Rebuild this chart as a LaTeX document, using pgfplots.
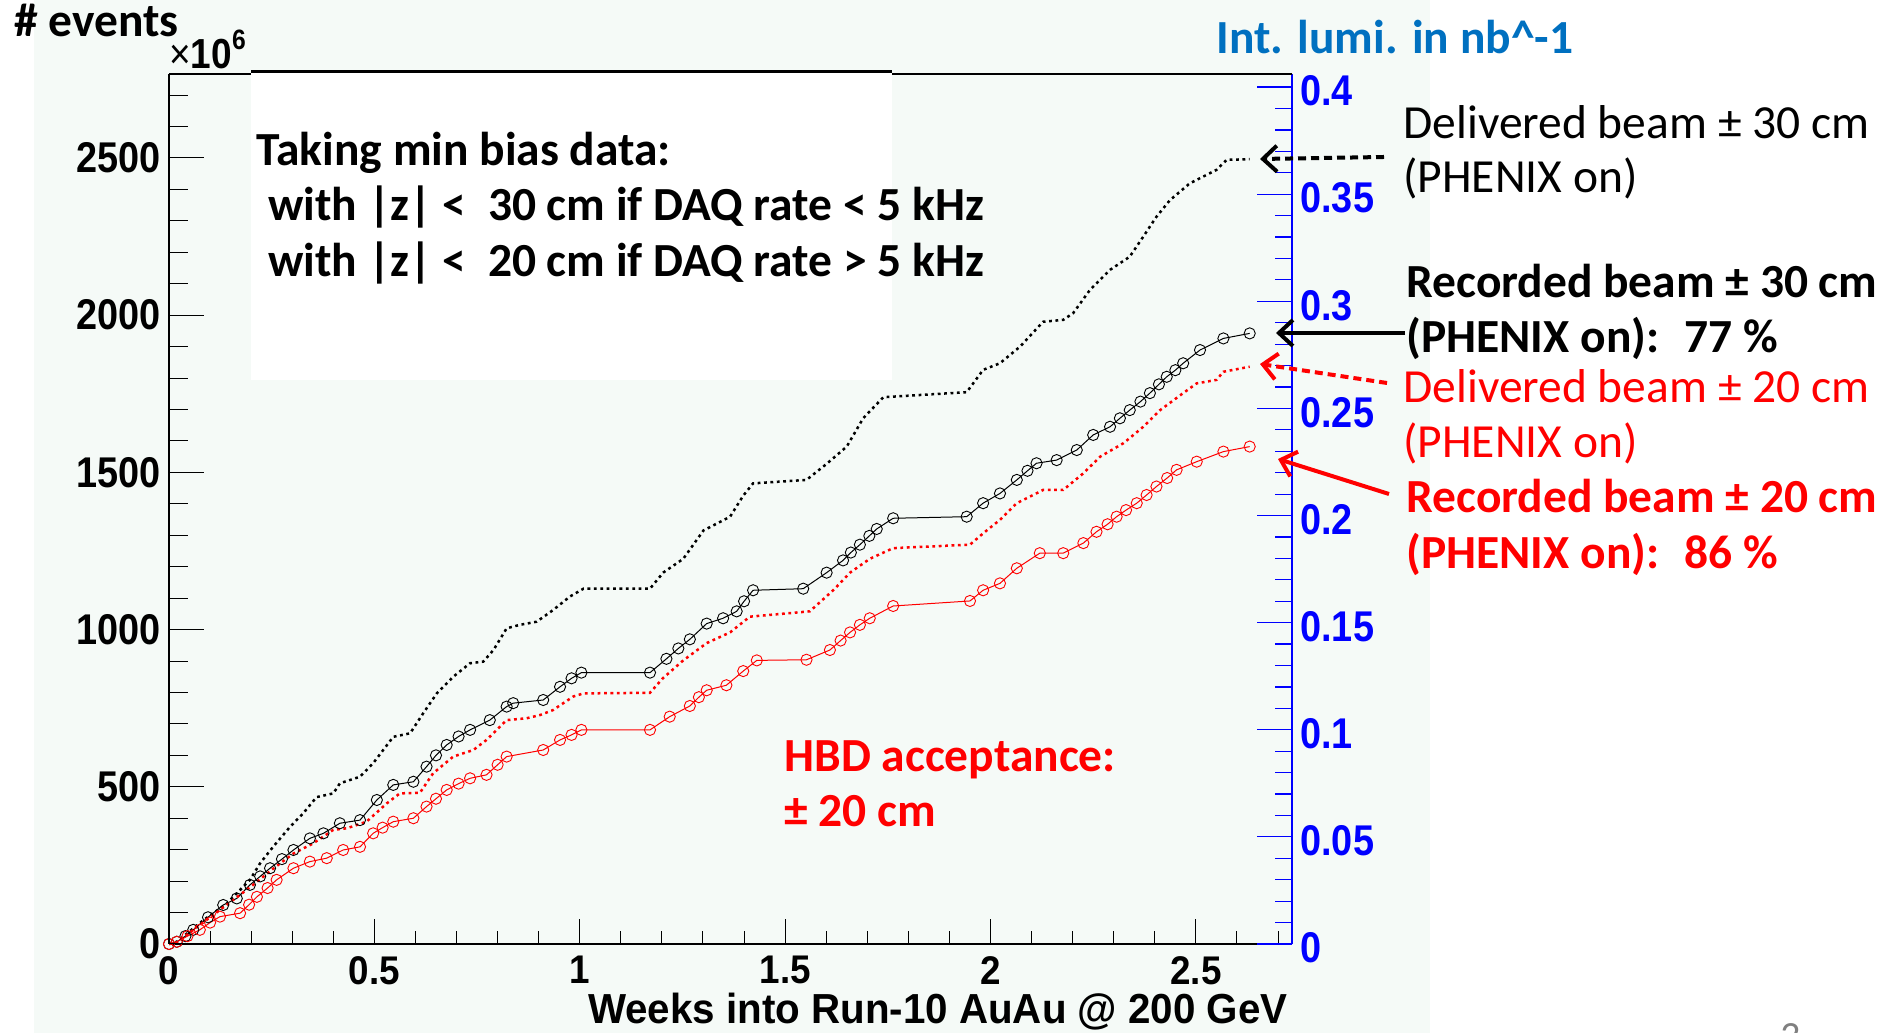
\documentclass[border=0pt]{standalone}
\usepackage{fontspec}
\setmainfont{Carlito}
\usepackage{pgfplots}
\pgfplotsset{compat=1.18}
\usetikzlibrary{arrows.meta}
\newfontfamily\rootfont[FakeStretch=0.88]{Liberation Sans}
\newfontfamily\rootfontx[FakeStretch=0.92]{Liberation Sans}
\newfontfamily\rootfontw[FakeStretch=0.96]{Liberation Sans}
\definecolor{pale}{RGB}{245,250,247}
\definecolor{lumiblue}{RGB}{0,112,192}
\definecolor{rred}{RGB}{255,0,0}
\definecolor{rblue}{RGB}{0,0,255}
\newcommand\tickfont{\rootfont\bfseries\fontsize{21.5}{21.5}\selectfont}
\newcommand\xtickfont{\rootfontx\bfseries\fontsize{20}{20}\selectfont}
\newcommand\slidefont{\fontsize{23.75}{28.5}\selectfont}
\pgfplotsset{
  myframe/.style={at={(84.5pt,44.5pt)}, anchor=south west, scale only axis,
    width=561.5pt, height=435pt, xmin=0, xmax=2.734, clip=false,
    tick align=inside},
}
\begin{document}
\begin{tikzpicture}[x=0.5pt,y=0.5pt]
\useasboundingbox (0,0) rectangle (1891,1033);
\fill[white] (0,0) rectangle (1891,1033);
\fill[pale] (34,0) rectangle (1430,1033);

% data axis with x ticks
\begin{axis}[myframe, ymin=0, ymax=2767,
  hide y axis, axis x line*=bottom,
  x axis line style={-, line width=0.75pt},
  xtick={0,0.5,1,1.5,2,2.5}, xticklabels={0,0.5,1,1.5,2,2.5},
  minor xtick={0,0.1,...,2.71},
  major tick length=12.5pt, minor tick length=6.5pt,
  tick style={black, line width=0.5pt},
  xticklabel style={font=\xtickfont, anchor=north, inner sep=0pt, yshift=-6pt}]
% Delivered +-30 cm
\addplot[black, line width=1.25pt, dash pattern=on 1.4pt off 1.8pt] coordinates {
(0,0) (0.019,7) (0.084,76) (0.141,129) (0.197,204) (0.222,257) (0.254,310)
(0.295,373) (0.327,416) (0.359,467) (0.400,479) (0.416,511) (0.465,532)
(0.497,575) (0.546,659) (0.587,670) (0.619,734) (0.652,797) (0.692,850)
(0.733,893) (0.765,898) (0.790,935) (0.822,1004) (0.854,1015) (0.895,1025)
(0.935,1062) (0.976,1105) (1.009,1130) (1.171,1130) (1.203,1181) (1.252,1225)
(1.301,1315) (1.366,1359) (1.398,1426) (1.422,1465) (1.552,1476) (1.601,1527)
(1.650,1582) (1.690,1672) (1.739,1739) (1.942,1755) (1.982,1826) (2.023,1847)
(2.072,1900) (2.128,1979) (2.177,1985) (2.201,2006) (2.242,2080) (2.291,2144)
(2.339,2186) (2.372,2250) (2.404,2313) (2.437,2366) (2.485,2419) (2.550,2462)
(2.575,2494) (2.631,2496)};
% Recorded +-30 cm
\addplot[black, line width=0.5pt, mark=o, mark size=2.8pt, mark options={solid, line width=0.45pt}] coordinates {
(0,0) (0.019,7) (0.040,25) (0.059,45) (0.095,85) (0.132,124) (0.165,145) (0.197,188)
(0.222,215) (0.246,241) (0.275,270) (0.303,299) (0.343,336) (0.376,352) (0.416,384)
(0.465,394) (0.506,458) (0.546,506) (0.595,516) (0.627,564) (0.650,600) (0.676,633)
(0.705,660) (0.733,681) (0.781,712) (0.822,755) (0.838,766) (0.911,776) (0.952,818)
(0.980,845) (1.004,863) (1.171,863) (1.211,907) (1.240,940) (1.268,969) (1.309,1019)
(1.349,1036) (1.382,1058) (1.400,1090) (1.422,1125) (1.544,1130) (1.601,1181)
(1.641,1220) (1.660,1245) (1.682,1270) (1.705,1298) (1.723,1320) (1.763,1354)
(1.942,1359) (1.982,1402) (2.023,1433) (2.064,1476) (2.090,1505) (2.112,1529)
(2.161,1539) (2.210,1571) (2.250,1619) (2.291,1645) (2.315,1672) (2.339,1698)
(2.365,1725) (2.388,1752) (2.410,1780) (2.429,1804) (2.450,1825) (2.469,1847)
(2.510,1889) (2.567,1926) (2.631,1942)};
% Delivered +-20 cm
\addplot[rred, line width=1.25pt, dash pattern=on 1.4pt off 1.8pt] coordinates {
(0,0) (0.019,5) (0.100,85) (0.197,180) (0.254,240) (0.303,288) (0.351,320)
(0.400,363) (0.433,368) (0.481,389) (0.530,447) (0.562,479) (0.611,481)
(0.643,543) (0.692,596) (0.741,617) (0.773,649) (0.822,712) (0.871,718)
(0.903,728) (0.935,744) (0.984,787) (1.009,797) (1.171,799) (1.203,846)
(1.252,902) (1.309,957) (1.366,991) (1.414,1041) (1.560,1058) (1.617,1125)
(1.658,1181) (1.706,1225) (1.763,1259) (1.950,1270) (1.982,1306) (2.023,1349)
(2.064,1402) (2.128,1444) (2.177,1444) (2.226,1497) (2.267,1550) (2.324,1593)
(2.372,1645) (2.413,1698) (2.469,1752) (2.502,1783) (2.550,1794) (2.567,1820)
(2.631,1836)};
% Recorded +-20 cm
\addplot[rred, line width=0.5pt, mark=o, mark size=2.8pt, mark options={solid, line width=0.45pt}] coordinates {
(0,0) (0.019,7) (0.045,25) (0.075,45) (0.100,68) (0.124,87) (0.173,98) (0.195,125)
(0.214,150) (0.240,178) (0.262,204) (0.303,241) (0.343,262) (0.384,273) (0.424,299)
(0.465,309) (0.497,352) (0.520,370) (0.546,389) (0.595,400) (0.627,437) (0.650,462)
(0.676,490) (0.705,510) (0.733,527) (0.773,538) (0.800,570) (0.822,596) (0.911,617)
(0.952,649) (0.980,665) (1.004,681) (1.171,681) (1.219,723) (1.268,757) (1.290,785)
(1.309,807) (1.357,823) (1.398,868) (1.431,902) (1.552,904) (1.609,935) (1.635,965)
(1.658,991) (1.682,1015) (1.706,1036) (1.763,1075) (1.950,1091) (1.982,1125)
(2.023,1147) (2.064,1195) (2.120,1243) (2.177,1243) (2.226,1275) (2.258,1311)
(2.285,1335) (2.307,1359) (2.330,1380) (2.356,1402) (2.380,1428) (2.404,1455)
(2.430,1482) (2.453,1508) (2.502,1534) (2.567,1566) (2.631,1582)};
\end{axis}

% left y axis
\begin{axis}[myframe, ymin=0, ymax=2767,
  hide x axis, axis y line*=left,
  y axis line style={-, line width=0.75pt},
  ytick={0,500,1000,1500,2000,2500}, yticklabels={0,500,1000,1500,2000,2500},
  minor ytick={0,100,...,2700},
  major tick length=17.5pt, minor tick length=9.5pt,
  tick style={black, line width=0.5pt},
  yticklabel style={font=\tickfont, anchor=east, inner sep=0pt, xshift=-4pt}]
\end{axis}

% right y axis
\begin{axis}[myframe, ymin=0, ymax=0.4061,
  hide x axis, axis y line*=right,
  y axis line style={-, draw=rblue, line width=0.75pt},
  ytick={0,0.05,0.1,0.15,0.2,0.25,0.3,0.35,0.4},
  yticklabels={0,0.05,0.1,0.15,0.2,0.25,0.3,0.35,0.4},
  minor ytick={0,0.01,...,0.401},
  major tick length=17.5pt, minor tick length=8.5pt,
  tick style={draw=rblue, line width=0.6pt},
  yticklabel style={font=\tickfont, text=rblue, anchor=west, inner sep=0pt, xshift=4pt, yshift=-2pt}]
\end{axis}

% top frame line
\draw[line width=0.75pt] (169,959) -- (1292,959);
% white text box
\fill[white] (251,653) rectangle (892,961);
\draw[line width=1.5pt] (251,961.5) -- (892,961.5);

% axis texts
\node[anchor=south west, inner sep=0pt, font=\rootfont\fontsize{21}{21}\selectfont] at (169,964) {×\textbf{10}\raisebox{0.45em}{\fontsize{14}{14}\selectfont\bfseries 6}};
\node[anchor=base east, inner sep=0pt, font=\rootfontw\bfseries\fontsize{21}{21}\selectfont] at (1288,9) {Weeks into Run-10 AuAu @ 200 GeV};
\node[anchor=base west, inner sep=0pt, font=\slidefont\bfseries] at (14,996) {\# events};
\node[anchor=base west, inner sep=0pt, font=\slidefont\bfseries, text=lumiblue] at (1216,979) {Int. lumi. in nb\textasciicircum-1};

% box text
\node[anchor=base west, inner sep=0pt, font=\slidefont\bfseries] at (256,867) {Taking min bias data:};
\node[anchor=base west, inner sep=0pt, font=\slidefont\bfseries] at (268,812) {with |z| <~ 30 cm if DAQ rate < 5 kHz};
\node[anchor=base west, inner sep=0pt, font=\slidefont\bfseries] at (268,756) {with |z| <~ 20 cm if DAQ rate > 5 kHz};

% right annotations
\node[anchor=base west, inner sep=0pt, font=\slidefont] at (1403,894) {Delivered beam ± 30 cm};
\node[anchor=base west, inner sep=0pt, font=\slidefont] at (1403,840) {(PHENIX on)};
\node[anchor=base west, inner sep=0pt, font=\slidefont\bfseries] at (1406,735) {Recorded beam ± 30 cm};
\node[anchor=base west, inner sep=0pt, font=\slidefont\bfseries] at (1406,680) {(PHENIX on):~ 77 \%};
\node[anchor=base west, inner sep=0pt, font=\slidefont, text=rred] at (1403,630) {Delivered beam ± 20 cm};
\node[anchor=base west, inner sep=0pt, font=\slidefont, text=rred] at (1403,575) {(PHENIX on)};
\node[anchor=base west, inner sep=0pt, font=\slidefont\bfseries, text=rred] at (1406,520) {Recorded beam ± 20 cm};
\node[anchor=base west, inner sep=0pt, font=\slidefont\bfseries, text=rred] at (1406,464) {(PHENIX on):~ 86 \%};
\node[anchor=base west, inner sep=0pt, font=\slidefont\bfseries, text=rred] at (784,261) {HBD acceptance:};
\node[anchor=base west, inner sep=0pt, font=\slidefont\bfseries, text=rred] at (784,206) {± 20 cm};

% arrows
\draw[line width=2pt, dash pattern=on 4pt off 2.5pt, -{Straight Barb[length=7pt,width=13pt]}] (1384,876) -- (1260,874);
\draw[line width=2pt, -{Straight Barb[length=7pt,width=13pt]}] (1405,700) -- (1276,700);
\draw[line width=2pt, rred, dash pattern=on 4pt off 2.5pt, -{Straight Barb[length=7pt,width=13pt]}] (1387,650) -- (1260,669);
\draw[line width=2pt, rred, -{Straight Barb[length=7pt,width=13pt]}] (1389,539) -- (1278,574);

% page number (cut off at the page edge, as in the slide)
\begin{scope}
\clip (0,0) rectangle (1891,1033);
\node[anchor=north, inner sep=0pt, text=gray, font=\fontsize{20}{20}\selectfont] at (1791,10) {3};
\end{scope}
\end{tikzpicture}
\end{document}
